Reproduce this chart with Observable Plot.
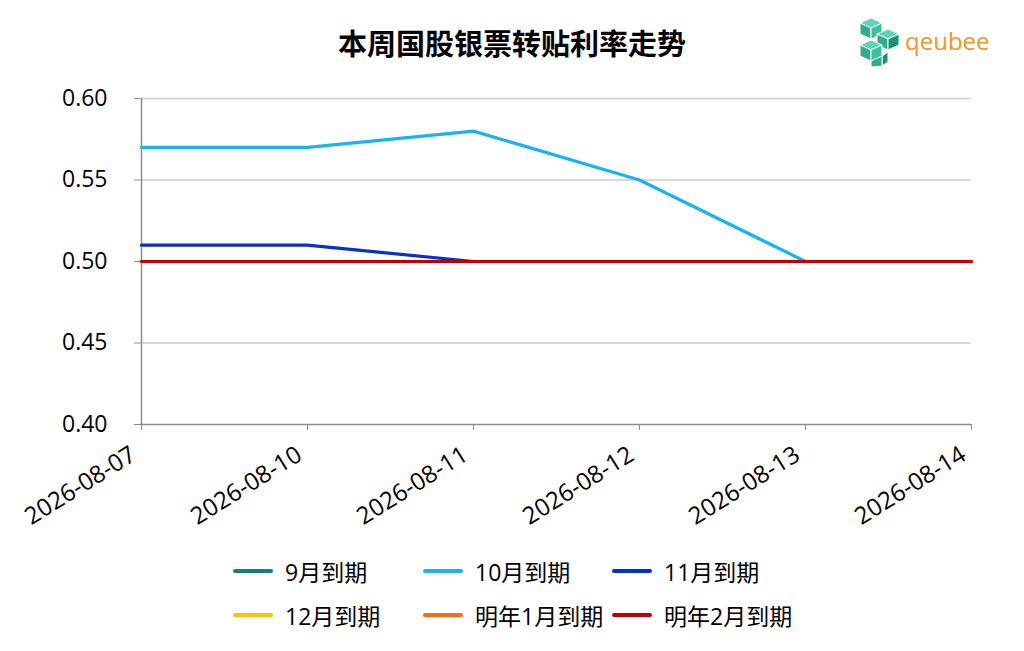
<!DOCTYPE html>
<html>
<head>
<meta charset="utf-8">
<script src="https://cdn.jsdelivr.net/npm/d3@7"></script>
<script src="https://cdn.jsdelivr.net/npm/@observablehq/plot@0.6"></script>
<style>
  html, body { margin: 0; padding: 0; background: #fff; }
  body { width: 1024px; height: 651px; position: relative; overflow: hidden;
         font-family: "Open Sans", "Noto Sans CJK SC", sans-serif; color: #000; }
  #title { position: absolute; left: 0; top: 0; width: 1024px; height: 70px; }
  #title .t { position: absolute; left: 0; width: 1024px; top: 24px; text-align: center;
              font-family: "Noto Sans CJK SC", sans-serif; font-weight: bold; font-size: 29px; line-height: 36px; }
  #logo { position: absolute; left: 858px; top: 16px; }
  #chart { position: absolute; left: 0; top: 70px; }
  #chart svg text { font-size: 23px; }
  #chart svg g.xaxis text { font-size: 24px; }
  #legend { position: absolute; left: 0; top: 543px; width: 1024px; height: 108px; }
  .item { position: absolute; height: 32px; display: flex; align-items: center;
          font-family: "Open Sans", "Noto Sans CJK SC", sans-serif; font-size: 23px; }
  .sw { width: 40px; height: 4px; border-radius: 2px; margin-right: 12px; }
</style>
</head>
<body>
<div id="title">
  <div class="t">本周国股银票转贴利率走势</div>
  <svg id="logo" width="140" height="52" viewBox="0 0 140 52">
    <g stroke="#fff" stroke-width="1">
      <polygon points="13,2 24,7 13,12 2,7" fill="#5fd3b5"/>
      <polygon points="2,7 13,12 13,23 2,18" fill="#2fae8e"/>
      <polygon points="13,12 24,7 24,18 13,23" fill="#3cc19f"/>
      <polygon points="30,13 41,18 30,23 19,18" fill="#5fd3b5"/>
      <polygon points="19,18 30,23 30,34 19,29" fill="#2fae8e"/>
      <polygon points="30,23 41,18 41,29 30,34" fill="#1f8f73"/>
      <polygon points="13,24 24,29 13,34 2,29" fill="#5fd3b5"/>
      <polygon points="2,29 13,34 13,45 2,40" fill="#2fae8e"/>
      <polygon points="13,34 24,29 24,40 13,45" fill="#3cc19f"/>
      <polygon points="24,40 30,36 30,46 24,50" fill="#1f8f73"/>
      <polygon points="13,45 24,40 24,50 13,51" fill="#2fae8e"/>
    </g>
    <text x="47" y="34" font-family="'Open Sans', Lato, sans-serif" font-size="24" font-weight="500" fill="#f39422">qeubee</text>
  </svg>
</div>
<div id="chart"></div>
<div id="legend"></div>
<script>
const dates = ["2026-08-07","2026-08-10","2026-08-11","2026-08-12","2026-08-13","2026-08-14"];
const seriesNames = ["9月到期","10月到期","11月到期","12月到期","明年1月到期","明年2月到期"];
const seriesColors = ["#138270","#19b4ef","#0532c8","#ffc000","#ff6a0a","#c00000"];
const sep = [0.50,0.50,0.50,0.50,0.50,0.50];
const oct = [0.57,0.57,0.58,0.55,0.50,0.50];
const nov = [0.51,0.51,0.50,0.50,0.50,0.50];
const dec = [0.50,0.50,0.50,0.50,0.50,0.50];
const jan = [0.50,0.50,0.50,0.50,0.50,0.50];
const feb = [0.50,0.50,0.50,0.50,0.50,0.50];
const yTicks = [0.40,0.45,0.50,0.55,0.60];

const seriesValues = [sep, oct, nov, dec, jan, feb];
const rows = [];
seriesNames.forEach((name, i) => {
  dates.forEach((d, j) => rows.push({date: d, value: seriesValues[i][j], series: name}));
});

const chart = Plot.plot({
  width: 1024,
  height: 475,
  marginTop: 28,
  marginBottom: 121,
  marginLeft: 140,
  marginRight: 53,
  style: {fontFamily: "'Open Sans', 'Noto Sans CJK SC', sans-serif", fontSize: "23px", color: "#000", background: "#fff"},
  x: {type: "point", domain: dates, padding: 0},
  y: {domain: [0.40, 0.60]},
  color: {domain: seriesNames, range: seriesColors},
  marks: [
    Plot.ruleY(yTicks.slice(1), {stroke: "#d9d9d9", strokeWidth: 2}),
    Plot.ruleY([0.40], {stroke: "#8c8c8c", strokeWidth: 1.5}),
    Plot.ruleX([dates[0]], {stroke: "#8c8c8c", strokeWidth: 1.5}),
    Plot.axisY({ticks: yTicks, tickFormat: d3.format(".2f"), tickSize: 6, tickPadding: 27, stroke: "#8c8c8c", fontSize: 23, label: null}),
    Plot.axisX({tickSize: 6, text: null, stroke: "#8c8c8c", label: null}),
    Plot.axisX({tickSize: 0, tickPadding: 22, tickRotate: -32, dx: -8, dy: 6, fontSize: 24, label: null, className: "xaxis"}),
    Plot.line(rows, {x: "date", y: "value", z: "series", stroke: "series", strokeWidth: 3.2})
  ]
});
document.getElementById("chart").appendChild(chart);

const legendPos = [[233,12],[423,12],[612,12],[233,56],[423,56],[612,56]];
const legend = document.getElementById("legend");
seriesNames.forEach((name, i) => {
  const el = document.createElement("div");
  el.className = "item";
  el.style.left = legendPos[i][0] + "px";
  el.style.top = legendPos[i][1] + "px";
  el.innerHTML = `<span class="sw" style="background:${seriesColors[i]}"></span><span>${name}</span>`;
  legend.appendChild(el);
});
</script>
</body>
</html>
